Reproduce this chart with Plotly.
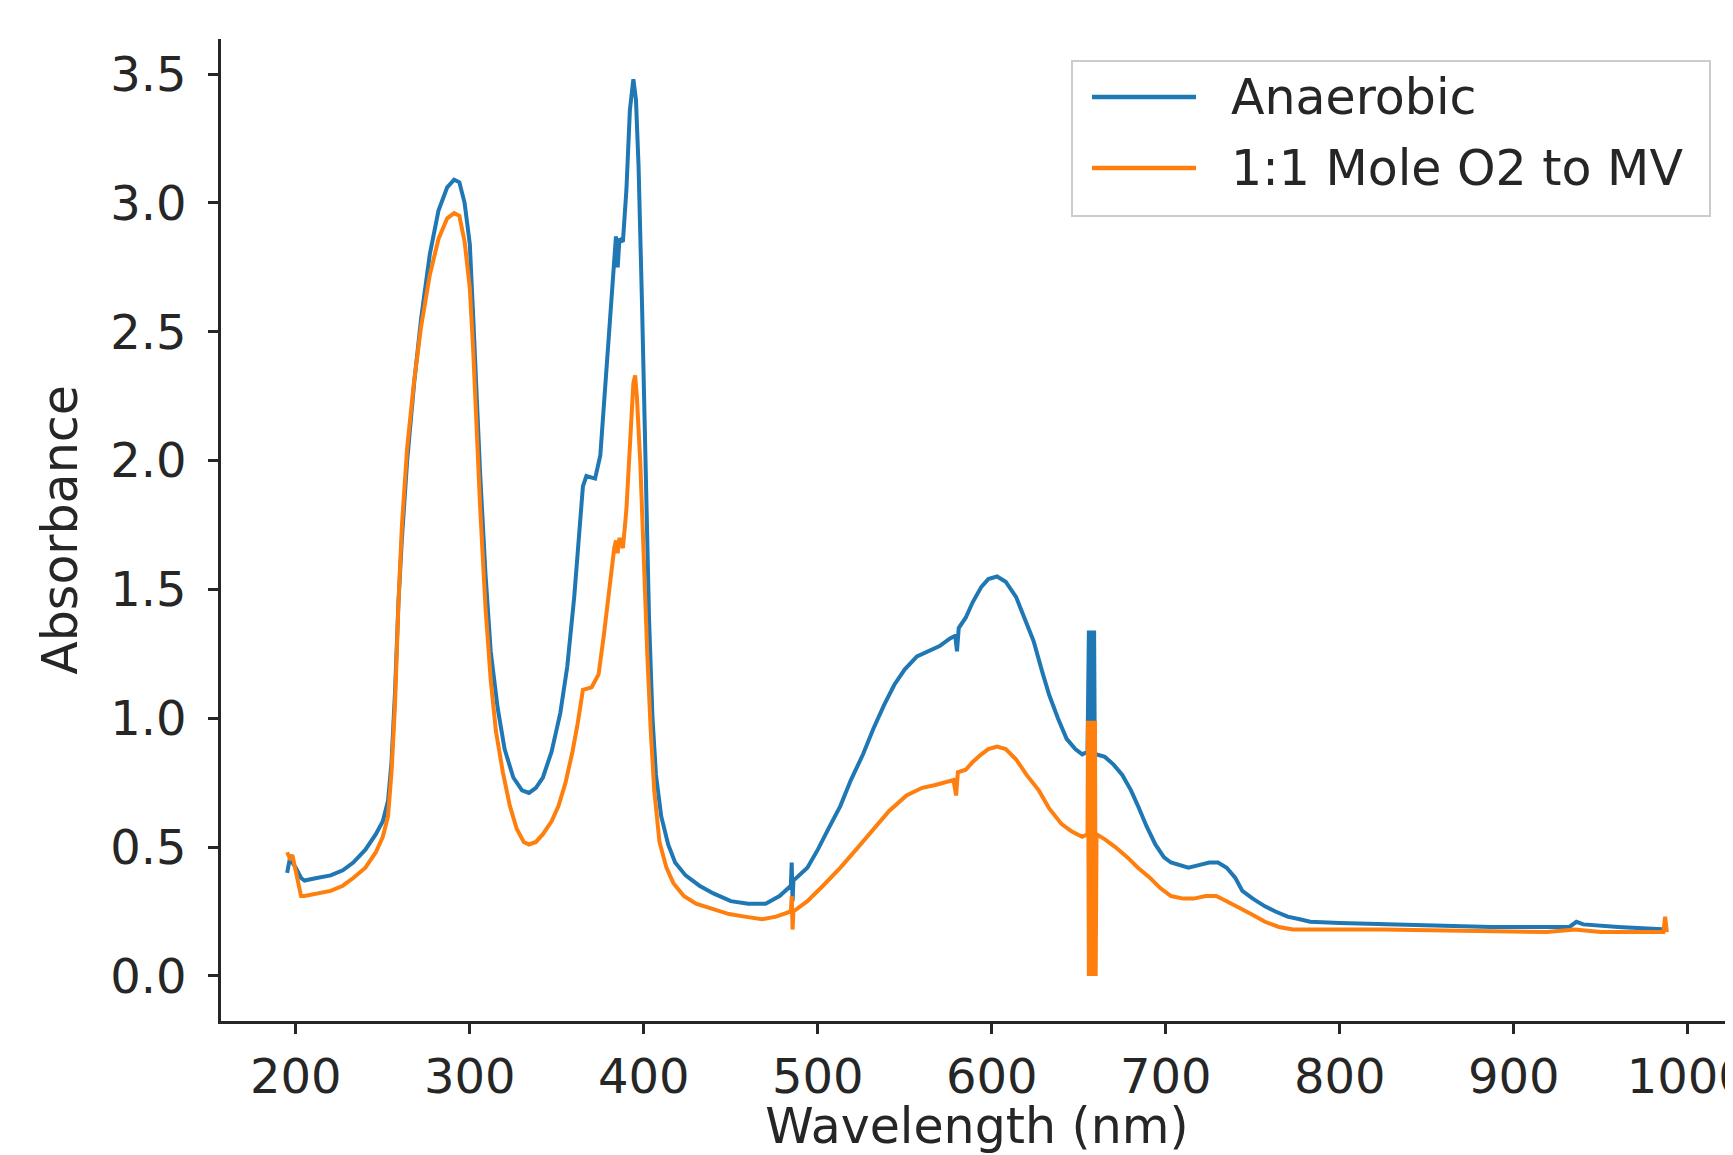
import plotly.graph_objects as go

# ---------------- data ----------------
wl_anaerobic = [195, 197, 198, 200, 203, 205, 212, 220, 227, 233, 240, 246, 250, 253, 255, 257, 259, 261, 264,
                268, 272, 277, 282, 287, 291, 294, 297, 300, 302, 304, 306, 309, 312, 316, 320, 325, 330, 334,
                338, 342, 347, 352, 356, 360, 363, 365, 367, 372, 375, 378, 381, 383, 384, 385, 386, 388, 390,
                392, 394, 395.5, 397, 399, 401, 403, 405, 407, 410, 414, 418, 424, 432, 440, 450, 460, 470, 478,
                484.5, 485, 485.5, 486, 494, 500, 506, 513, 519, 526, 532, 538, 544, 550, 557, 563, 570, 576,
                579, 580, 581, 585, 589, 594, 598, 603, 608, 614, 619, 624, 629, 633, 638, 643, 648, 652, 655,
                655.8, 656.3, 656.8, 657.3, 657.8, 658.3, 658.8, 659.2, 660, 665, 670, 675, 680, 684, 689, 694,
                699, 703, 708, 713, 719, 725, 730, 735, 740, 744, 750, 757, 763, 770, 777, 783, 800, 824, 860,
                887, 925, 932, 936, 940, 960, 986, 988]
abs_anaerobic = [0.40, 0.47, 0.44, 0.42, 0.38, 0.37, 0.38, 0.39, 0.41, 0.44, 0.49, 0.55, 0.60, 0.68, 0.83, 1.10,
                 1.45, 1.70, 2.00, 2.30, 2.55, 2.80, 2.97, 3.06, 3.09, 3.08, 3.00, 2.84, 2.55, 2.20, 1.94, 1.56,
                 1.26, 1.04, 0.88, 0.77, 0.72, 0.71, 0.73, 0.77, 0.87, 1.02, 1.20, 1.47, 1.72, 1.90, 1.94, 1.93,
                 2.02, 2.30, 2.60, 2.80, 2.87, 2.75, 2.86, 2.85, 3.05, 3.36, 3.48, 3.40, 3.14, 2.60, 1.95, 1.39,
                 1.00, 0.78, 0.62, 0.51, 0.44, 0.39, 0.35, 0.32, 0.29, 0.28, 0.28, 0.31, 0.35, 0.44, 0.29, 0.37,
                 0.42, 0.49, 0.57, 0.66, 0.76, 0.86, 0.96, 1.05, 1.13, 1.19, 1.24, 1.26, 1.28, 1.31, 1.32, 1.26,
                 1.35, 1.39, 1.45, 1.51, 1.54, 1.55, 1.53, 1.47, 1.39, 1.30, 1.18, 1.09, 1.00, 0.92, 0.88, 0.86,
                 0.87, 1.34, 0.00, 1.34, 0.00, 1.34, 0.00, 1.34, 0.86, 0.86, 0.85, 0.82, 0.78, 0.72, 0.66, 0.58,
                 0.51, 0.46, 0.44, 0.43, 0.42, 0.43, 0.44, 0.44, 0.42, 0.38, 0.33, 0.30, 0.27, 0.25, 0.23, 0.22,
                 0.21, 0.205, 0.20, 0.195, 0.19, 0.19, 0.19, 0.21, 0.20, 0.19, 0.18, 0.18]

wl_oxygen = [195, 197, 198, 200, 203, 205, 212, 220, 227, 233, 240, 246, 250, 253, 255, 257, 259, 261, 264, 268,
             272, 277, 282, 287, 291, 294, 297, 300, 302, 304, 306, 309, 312, 315, 319, 323, 327, 331, 334, 338,
             342, 347, 351, 355, 359, 362, 365, 370, 374, 377, 380, 383, 384, 385, 386, 388, 390, 392, 394, 395,
             396, 398, 400, 402, 404, 406, 409, 413, 417, 423, 430, 440, 449, 458, 468, 476, 481, 484.5, 485,
             485.5, 486, 494, 503, 513, 522, 532, 541, 551, 560, 567, 573, 578, 579.5, 580.5, 585, 589, 594,
             598, 603, 608, 614, 620, 627, 633, 640, 646, 652, 655, 655.3, 655.8, 656.3, 656.8, 657.3, 657.8,
             658.3, 658.8, 659.3, 659.7, 660.2, 665, 671, 678, 684, 691, 697, 703, 710, 716, 723, 729, 735, 741,
             749, 757, 765, 773, 790, 824, 870, 919, 935, 950, 986, 987, 988]
abs_oxygen = [0.48, 0.45, 0.47, 0.40, 0.31, 0.31, 0.32, 0.33, 0.35, 0.38, 0.42, 0.48, 0.54, 0.62, 0.79, 1.05,
              1.45, 1.75, 2.05, 2.31, 2.52, 2.72, 2.86, 2.94, 2.96, 2.95, 2.85, 2.67, 2.42, 2.10, 1.81, 1.43,
              1.15, 0.95, 0.79, 0.66, 0.57, 0.52, 0.51, 0.52, 0.55, 0.60, 0.66, 0.75, 0.87, 0.98, 1.11, 1.12,
              1.17, 1.32, 1.50, 1.66, 1.69, 1.64, 1.70, 1.66, 1.81, 2.08, 2.30, 2.33, 2.25, 1.99, 1.60, 1.25,
              0.95, 0.72, 0.52, 0.42, 0.36, 0.31, 0.28, 0.26, 0.24, 0.23, 0.22, 0.23, 0.24, 0.25, 0.31, 0.18,
              0.25, 0.29, 0.35, 0.42, 0.49, 0.57, 0.64, 0.70, 0.73, 0.74, 0.75, 0.76, 0.70, 0.79, 0.80, 0.83,
              0.86, 0.88, 0.89, 0.88, 0.84, 0.78, 0.72, 0.65, 0.59, 0.56, 0.54, 0.55, 0.99, 0.00, 0.99, 0.00,
              0.99, 0.00, 0.99, 0.00, 0.99, 0.00, 0.55, 0.53, 0.50, 0.46, 0.42, 0.38, 0.34, 0.31, 0.30, 0.30,
              0.31, 0.31, 0.29, 0.27, 0.24, 0.21, 0.19, 0.18, 0.18, 0.18, 0.175, 0.17, 0.18, 0.17, 0.17, 0.23,
              0.17]

series_names = ["Anaerobic", "1:1 Mole O2 to MV"]
series_colors = ["#1f77b4", "#ff7f0e"]
x_ticks = [200, 300, 400, 500, 600, 700, 800, 900, 1000]
y_ticks = [0.0, 0.5, 1.0, 1.5, 2.0, 2.5, 3.0, 3.5]

FONT = "DejaVu Sans"
TXT = "#262626"
# the page body has an 8px margin, so the figure is sized to end at the window edge
W, H = 1725, 1147
ML, MT, MB, MR = 213, 31, 134, 0
OFF = 8


def px_x(X):  # page pixel -> paper fraction
    return (X - OFF - ML) / (W - ML - MR)


def px_y(Y):
    return (H - MB - (Y - OFF)) / (H - MB - MT)


fig = go.Figure()
for xs, ys, name, col in [(wl_anaerobic, abs_anaerobic, series_names[0], series_colors[0]),
                          (wl_oxygen, abs_oxygen, series_names[1], series_colors[1])]:
    fig.add_trace(go.Scatter(x=xs, y=ys, mode="lines", name=name,
                             line=dict(color=col, width=4), showlegend=False))

# legend drawn matplotlib-style (long sample lines, light frame)
fig.add_shape(type="rect", xref="paper", yref="paper",
              x0=px_x(1072), x1=px_x(1710), y0=px_y(216), y1=px_y(61),
              line=dict(color="#cccccc", width=2), fillcolor="rgba(255,255,255,0.8)", layer="above")
for i, (name, col) in enumerate(zip(series_names, series_colors)):
    yy = [97, 168][i]
    fig.add_shape(type="line", xref="paper", yref="paper",
                  x0=px_x(1092), x1=px_x(1196), y0=px_y(yy), y1=px_y(yy),
                  line=dict(color=col, width=4.5), layer="above")
    fig.add_annotation(xref="paper", yref="paper", x=px_x(1229), y=px_y(yy),
                       text=name, showarrow=False, xanchor="left", yanchor="middle",
                       font=dict(family=FONT, size=49, color=TXT))

axis_common = dict(showline=True, linecolor=TXT, linewidth=2.5, ticks="outside",
                   ticklen=10, tickwidth=2.5, tickcolor=TXT, showgrid=False, zeroline=False,
                   tickfont=dict(family=FONT, size=48, color=TXT), mirror=False)

fig.update_xaxes(range=[157, 1026], tickvals=x_ticks, ticktext=[str(v) for v in x_ticks],
                 ticklabeloverflow="allow",
                 title=dict(text="Wavelength (nm)", font=dict(family=FONT, size=49, color=TXT), standoff=27),
                 ticklabelstandoff=2, **axis_common)
fig.update_yaxes(range=[-0.175, 3.636], tickvals=y_ticks, ticktext=[f"{v:.1f}" for v in y_ticks],
                 title=dict(text="Absorbance", font=dict(family=FONT, size=49, color=TXT), standoff=18),
                 ticklabelstandoff=12, **axis_common)

fig.update_layout(width=W, height=H, margin=dict(l=ML, r=MR, t=MT, b=MB, autoexpand=False),
                  plot_bgcolor="white", paper_bgcolor="white",
                  font=dict(family=FONT, color=TXT))

fig.write_html("out.html")
